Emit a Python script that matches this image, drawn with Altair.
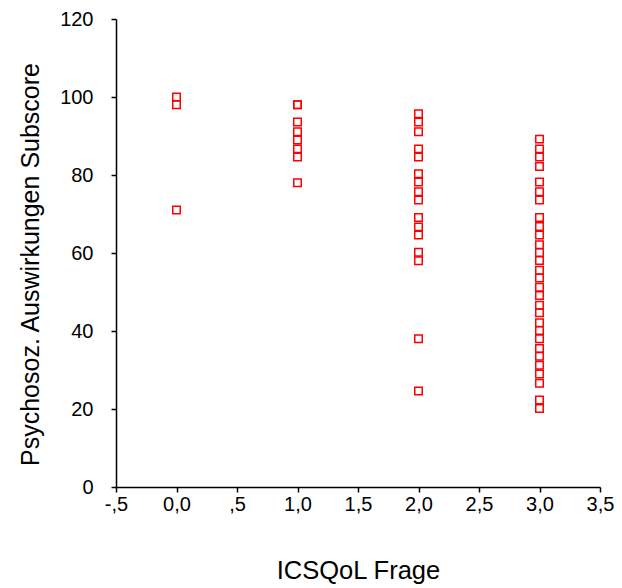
import altair as alt
import pandas as pd

# Values
vals_0 = [100.0, 98.0, 71.0]
vals_1 = [98.0, 98.0, 93.6, 91.1, 89.0, 86.7, 84.6, 78.0]
vals_2 = [95.7, 93.6, 91.1, 86.7, 84.6, 80.3, 78.2, 75.7, 73.6, 69.1, 66.7,
          64.6, 60.2, 58.0, 38.0, 24.6]
vals_3 = [89.2, 86.7, 84.6, 82.2, 78.2, 75.7, 73.6, 69.1, 66.8, 64.6, 62.1,
          60.1, 58.1, 55.6, 53.6, 51.2, 49.1, 46.6, 44.7, 42.1, 40.1, 38.0,
          35.5, 33.5, 31.2, 29.0, 26.6, 22.3, 20.1]
groups = [0, 1, 2, 3]
x_ticks = [-0.5, 0.0, 0.5, 1.0, 1.5, 2.0, 2.5, 3.0, 3.5]
y_ticks = [0, 20, 40, 60, 80, 100, 120]

rows = []
for g, vals in zip(groups, [vals_0, vals_1, vals_2, vals_3]):
    for v in vals:
        rows.append({"frage": g, "score": v})
df = pd.DataFrame(rows)

x_label = ("datum.value == -0.5 ? '-,5' : datum.value == 0.5 ? ',5' : "
           "replace(format(datum.value, '.1f'), '.', ',')")

common = dict(grid=False, domainColor="black", domainWidth=1.5, tickColor="black",
              tickWidth=1.5, tickSize=5, labelFont="Liberation Sans", labelFontSize=20,
              labelColor="black", titleFont="Liberation Sans", titleFontWeight="normal",
              titleColor="black", labelFlush=False, labelOverlap=False)

chart = alt.Chart(df).mark_point(
    shape="square", filled=False, color="#FF0000", size=56, strokeWidth=1.5, opacity=1
).encode(
    x=alt.X("frage:Q", scale=alt.Scale(domain=[-0.5, 3.5], nice=False, zero=False),
            axis=alt.Axis(values=x_ticks, labelExpr=x_label, title="ICSQoL Frage",
                          titleY=83, titleBaseline="middle", labelPadding=2,
                          titleFontSize=25.5, **common)),
    y=alt.Y("score:Q", scale=alt.Scale(domain=[0, 120], nice=False),
            axis=alt.Axis(values=y_ticks, title="Psychosoz. Auswirkungen Subscore",
                          titleX=-86, titleY=245, titleBaseline="middle", labelPadding=18,
                          titleFontSize=25, **common)),
).properties(
    width=484, height=468,
    autosize=alt.AutoSizeParams(type="none"),
    padding={"left": 116, "top": 19, "right": 22, "bottom": 101},
).configure_view(stroke=None)

chart.save("out.html", embed_options={"renderer": "svg", "actions": False})
